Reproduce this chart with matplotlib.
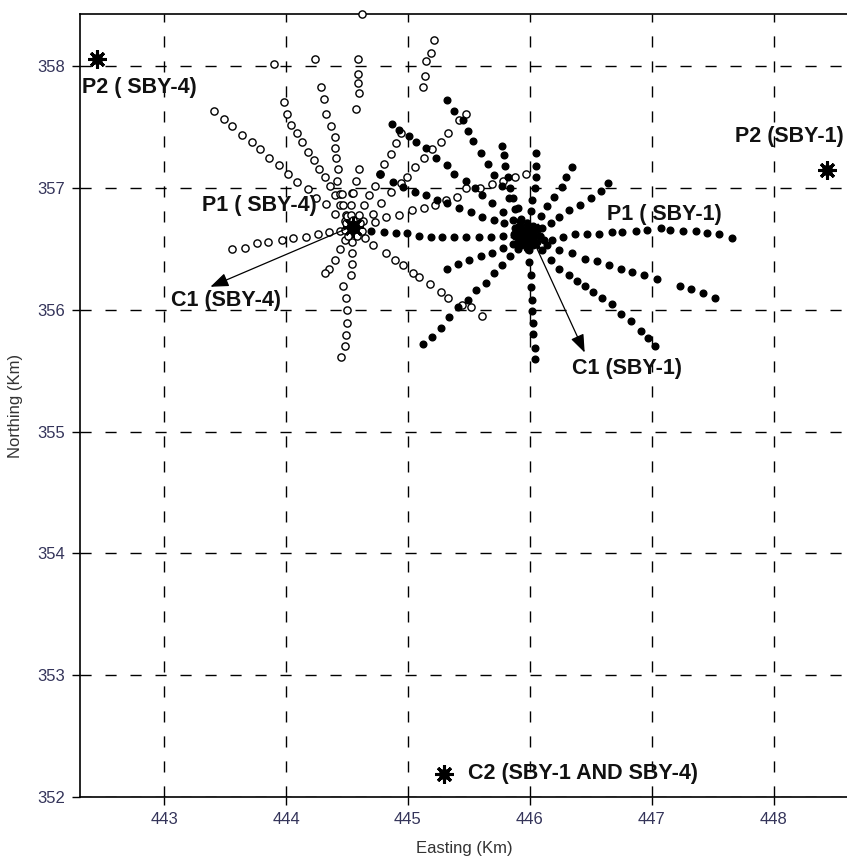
import matplotlib
matplotlib.use("Agg")
import matplotlib.pyplot as plt

# well locations (Easting, Northing in km)
sby4_well = (444.55, 356.68)
sby1_well = (445.98, 356.61)
stars = [(442.45, 358.06), (448.44, 357.15), (445.30, 352.19)]

# SBY-4 particle tracks (open circles)
sby4_nw = [(443.41, 357.63), (443.49, 357.57), (443.56, 357.51), (443.64, 357.44), (443.72, 357.38),
           (443.79, 357.32), (443.86, 357.25), (443.94, 357.19), (444.02, 357.12), (444.09, 357.05),
           (444.18, 356.99), (444.25, 356.92), (444.33, 356.87), (444.40, 356.79), (444.48, 356.73)]
sby4_nnw = [(443.98, 357.71), (444.01, 357.61), (444.04, 357.52), (444.09, 357.45), (444.13, 357.38),
            (444.18, 357.30), (444.23, 357.23), (444.27, 357.16), (444.32, 357.09), (444.36, 357.02),
            (444.40, 356.94), (444.44, 356.86), (444.49, 356.78)]
sby4_n = [(444.29, 357.83), (444.31, 357.73), (444.33, 357.61), (444.37, 357.51), (444.40, 357.42),
          (444.40, 357.33), (444.41, 357.25), (444.43, 357.16), (444.42, 357.06), (444.44, 356.95),
          (444.47, 356.86), (444.50, 356.77)]
sby4_top = [(443.90, 358.02), (444.24, 358.06), (444.62, 358.43),
            (444.59, 358.06), (444.59, 357.94), (444.59, 357.86), (444.60, 357.78), (444.57, 357.65),
            (444.60, 357.16), (444.57, 357.06), (444.54, 356.96), (444.53, 356.86), (444.53, 356.78)]
sby4_ne_top = [(445.21, 358.22), (445.19, 358.11), (445.15, 358.04), (445.14, 357.92), (445.12, 357.83)]
sby4_ne = [(445.48, 357.61), (445.42, 357.56), (445.33, 357.45), (445.27, 357.38), (445.20, 357.32),
           (445.13, 357.25), (445.06, 357.17), (444.99, 357.09), (444.94, 357.04), (444.86, 356.97),
           (444.78, 356.88), (444.71, 356.79), (444.63, 356.73)]
sby4_nne = [(444.94, 357.45), (444.90, 357.37), (444.86, 357.28), (444.80, 357.20), (444.77, 357.12),
            (444.73, 357.02), (444.68, 356.94), (444.64, 356.86), (444.60, 356.78)]
sby4_ene = [(444.73, 356.72), (444.82, 356.76), (444.93, 356.78), (445.03, 356.82), (445.13, 356.84),
            (445.22, 356.86), (445.31, 356.90), (445.40, 356.93), (445.48, 357.00), (445.59, 357.00),
            (445.69, 357.03), (445.78, 357.06), (445.88, 357.09), (445.97, 357.12)]
sby4_se = [(444.65, 356.59), (444.71, 356.53), (444.82, 356.47), (444.89, 356.41), (444.96, 356.37),
           (445.04, 356.30), (445.09, 356.27), (445.18, 356.21), (445.27, 356.15), (445.33, 356.10),
           (445.44, 356.04), (445.52, 356.02), (445.61, 355.95)]
sby4_s = [(444.54, 356.56), (444.54, 356.47), (444.54, 356.38), (444.53, 356.29), (444.47, 356.20),
          (444.49, 356.10), (444.50, 356.00), (444.50, 355.89), (444.49, 355.79), (444.48, 355.70),
          (444.45, 355.61)]
sby4_ssw = [(444.48, 356.57), (444.44, 356.50), (444.40, 356.41), (444.35, 356.34), (444.32, 356.30)]
sby4_w = [(443.56, 356.50), (443.66, 356.51), (443.76, 356.55), (443.85, 356.56), (443.97, 356.57),
          (444.06, 356.59), (444.16, 356.60), (444.26, 356.62), (444.35, 356.64), (444.44, 356.65)]
sby4_ring = [(444.49, 356.71), (444.55, 356.74), (444.61, 356.71), (444.62, 356.65), (444.58, 356.61),
             (444.51, 356.61), (444.48, 356.66), (444.46, 356.95), (444.55, 356.96)]

# SBY-1 particle tracks (filled dots)
sby1_w = [(444.70, 356.65), (444.80, 356.64), (444.90, 356.63), (444.99, 356.63), (445.09, 356.61),
          (445.19, 356.60), (445.28, 356.60), (445.38, 356.60), (445.48, 356.60), (445.58, 356.60),
          (445.68, 356.60), (445.78, 356.61), (445.87, 356.62)]
sby1_wnw = [(444.77, 357.12), (444.88, 357.05), (444.96, 357.01), (445.06, 356.97), (445.15, 356.94),
            (445.24, 356.90), (445.32, 356.88), (445.42, 356.84), (445.52, 356.80), (445.61, 356.76),
            (445.71, 356.74), (445.79, 356.71), (445.88, 356.67)]
sby1_nw = [(444.87, 357.53), (444.93, 357.48), (445.01, 357.43), (445.07, 357.38), (445.15, 357.33),
           (445.23, 357.25), (445.32, 357.19), (445.38, 357.12), (445.48, 357.06), (445.55, 357.00),
           (445.61, 356.94), (445.69, 356.88), (445.78, 356.80), (445.86, 356.74)]
sby1_nnw = [(445.32, 357.72), (445.38, 357.63), (445.45, 357.56), (445.49, 357.47), (445.53, 357.39),
            (445.60, 357.29), (445.66, 357.20), (445.71, 357.11), (445.77, 357.02), (445.83, 356.92),
            (445.88, 356.83), (445.92, 356.73)]
sby1_n1 = [(445.77, 357.35), (445.79, 357.27), (445.80, 357.18), (445.82, 357.09), (445.84, 357.00),
           (445.86, 356.92), (445.90, 356.84), (445.93, 356.75)]
sby1_n = [(446.05, 357.29), (446.05, 357.18), (446.05, 357.09), (446.04, 357.00), (446.02, 356.90),
          (446.01, 356.81)]
sby1_nne = [(446.35, 357.17), (446.30, 357.09), (446.26, 357.01), (446.20, 356.93), (446.14, 356.85),
            (446.09, 356.77)]
sby1_ne = [(446.64, 357.04), (446.58, 356.98), (446.50, 356.92), (446.41, 356.86), (446.32, 356.82),
           (446.24, 356.76), (446.17, 356.71), (446.10, 356.67)]
sby1_e = [(446.12, 356.57), (446.18, 356.57), (446.27, 356.60), (446.37, 356.62), (446.47, 356.62),
          (446.57, 356.62), (446.67, 356.64), (446.76, 356.64), (446.87, 356.65), (446.96, 356.66),
          (447.08, 356.67), (447.15, 356.66), (447.26, 356.65), (447.36, 356.65), (447.45, 356.63),
          (447.55, 356.62), (447.66, 356.59)]
sby1_ese = [(446.14, 356.53), (446.24, 356.49), (446.35, 356.47), (446.45, 356.42), (446.55, 356.40),
            (446.65, 356.37), (446.75, 356.34), (446.84, 356.31), (446.94, 356.29), (447.04, 356.25),
            (447.23, 356.20), (447.32, 356.17), (447.42, 356.14), (447.52, 356.10)]
sby1_se = [(446.10, 356.49), (446.17, 356.41), (446.24, 356.34), (446.32, 356.29), (446.39, 356.24),
           (446.45, 356.20), (446.52, 356.15), (446.59, 356.10), (446.67, 356.05), (446.75, 355.97),
           (446.83, 355.91), (446.91, 355.83), (446.97, 355.77), (447.03, 355.70)]
sby1_s = [(445.99, 356.49), (445.99, 356.39), (446.01, 356.29), (446.01, 356.19), (446.02, 356.08),
          (446.02, 355.99), (446.03, 355.89), (446.03, 355.80), (446.04, 355.69), (446.04, 355.60)]
sby1_sw = [(445.12, 355.72), (445.20, 355.78), (445.27, 355.85), (445.34, 355.94), (445.41, 356.02),
           (445.49, 356.08), (445.56, 356.16), (445.64, 356.22), (445.71, 356.30), (445.77, 356.37),
           (445.84, 356.44), (445.90, 356.50)]
sby1_wsw = [(445.32, 356.34), (445.41, 356.38), (445.50, 356.41), (445.60, 356.44), (445.69, 356.47),
            (445.78, 356.51), (445.86, 356.54)]
sby1_ring = [(445.90, 356.66), (445.93, 356.69), (445.98, 356.71), (446.03, 356.69), (446.06, 356.66),
             (446.08, 356.61), (446.06, 356.56), (446.03, 356.53), (445.98, 356.51), (445.93, 356.53),
             (445.90, 356.56), (445.88, 356.61)]

# capture zone arrows (tail, head)
arrow_sby4 = ((444.55, 356.69), (443.38, 356.19))
arrow_sby1 = ((446.01, 356.61), (446.45, 355.65))

labels = [("P2 ( SBY-4)", 442.33, 357.83), ("P1 ( SBY-4)", 443.31, 356.86),
          ("C1 (SBY-4)", 443.06, 356.08), ("P1 ( SBY-1)", 446.63, 356.78),
          ("C1 (SBY-1)", 446.35, 355.52), ("P2 (SBY-1)", 447.68, 357.42),
          ("C2 (SBY-1 AND SBY-4)", 445.49, 352.19)]

x_ticks = [443, 444, 445, 446, 447, 448]
y_ticks = [352, 353, 354, 355, 356, 357, 358]

sby4_tracks = [sby4_nw, sby4_nnw, sby4_n, sby4_top, sby4_ne_top, sby4_ne, sby4_nne,
               sby4_ene, sby4_se, sby4_s, sby4_ssw, sby4_w, sby4_ring]
sby1_tracks = [sby1_w, sby1_wnw, sby1_nw, sby1_nnw, sby1_n1, sby1_n, sby1_nne, sby1_ne,
               sby1_e, sby1_ese, sby1_se, sby1_s, sby1_sw, sby1_wsw, sby1_ring]

fig = plt.figure(figsize=(8.47, 8.61), dpi=100)
ax = fig.add_axes([80 / 847, 64 / 861, 768 / 847, 783 / 861])

tick_col = "#34345a"
grid_ls = (0, (8, 10))
for xv in x_ticks:
    ax.axvline(xv, color="black", lw=1.0, ls=grid_ls, zorder=1)
for yv in y_ticks:
    ax.axhline(yv, color="black", lw=1.0, ls=grid_ls, zorder=1)

for tr in sby4_tracks:
    xs = [p[0] for p in tr]
    ys = [p[1] for p in tr]
    ax.plot(xs, ys, "o", ms=5.2, mfc="white", mec="black", mew=1.0, ls="none",
            zorder=3, clip_on=False)

for tr in sby1_tracks:
    xs = [p[0] for p in tr]
    ys = [p[1] for p in tr]
    ax.plot(xs, ys, "o", ms=4.8, color="black", ls="none", zorder=4)

# well blobs
ax.plot(*sby1_well, "o", ms=14, color="black", zorder=5)
ax.plot(*sby1_well, marker=(8, 2, 0), ms=24, mew=2.5, color="black", zorder=5)
ax.plot(*sby4_well, "o", ms=9, color="black", zorder=5)
ax.plot(*sby4_well, marker=(8, 2, 0), ms=15, mew=2, color="black", zorder=5)

for sx, sy in stars:
    ax.plot(sx, sy, "o", ms=7, color="black", zorder=6)
    ax.plot(sx, sy, marker=(8, 2, 0), ms=13, mew=2.2, color="black", zorder=6)

for tail, head in (arrow_sby4, arrow_sby1):
    ax.annotate("", xy=head, xytext=tail,
                arrowprops=dict(arrowstyle="-|>,head_length=1.1,head_width=0.42",
                                color="black", lw=0.9, shrinkA=0, shrinkB=0),
                zorder=6)

for txt, tx, ty in labels:
    ax.text(tx, ty, txt, fontsize=15.5, fontweight="bold", family="Liberation Sans",
            ha="left", va="center", color="#111111", zorder=7)

ax.set_xlim(442.31, 448.61)
ax.set_ylim(352.0, 358.43)
ax.set_xticks(x_ticks)
ax.set_yticks(y_ticks)
ax.set_xticklabels([str(v) for v in x_ticks], family="Liberation Sans", fontsize=12, color=tick_col)
ax.set_yticklabels([str(v) for v in y_ticks], family="Liberation Sans", fontsize=12, color=tick_col)
ax.tick_params(direction="out", length=6, width=1, pad=5)
ax.set_xlabel("Easting (Km)", family="Liberation Sans", fontsize=12, color="#333333", labelpad=10)
ax.set_ylabel("Northing (Km)", family="Liberation Sans", fontsize=12, color="#333333", labelpad=10)
for s in ax.spines.values():
    s.set_linewidth(1.2)

fig.savefig("out.png", dpi=100)
